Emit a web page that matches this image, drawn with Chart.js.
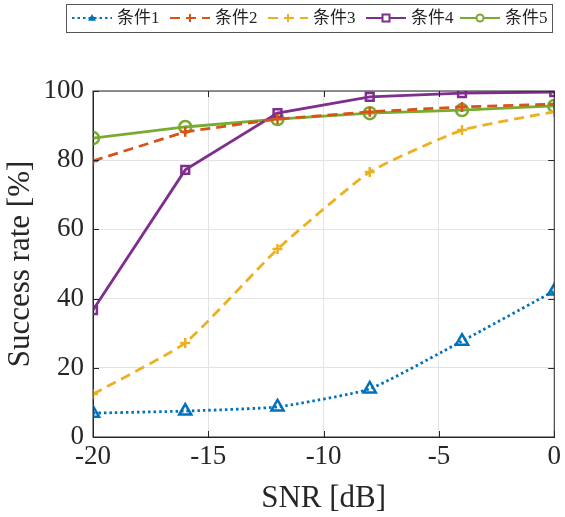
<!DOCTYPE html>
<html>
<head>
<meta charset="utf-8">
<script src="https://cdn.jsdelivr.net/npm/chart.js@4"></script>
<style>
  html, body { margin: 0; padding: 0; background: #fff; }
  #wrap { width: 565px; height: 517px; }
</style>
</head>
<body>
<div id="wrap"><canvas id="c" width="565" height="517"></canvas></div>
<script>
// data
const snr = [-20, -16, -12, -8, -4, 0];
const labels = ["条件1", "条件2", "条件3", "条件4", "条件5"];
const cond1 = [6.9, 7.5, 8.7, 13.9, 27.7, 42.2];
const cond2 = [79.8, 88.2, 91.9, 94.0, 95.4, 96.2];
const cond3 = [12.4, 27.2, 54.3, 76.6, 88.7, 94.0];
const cond4 = [36.7, 77.2, 93.6, 98.3, 99.4, 99.7];
const cond5 = [86.4, 89.6, 91.9, 93.6, 94.5, 95.7];
const xTicks = [-20, -15, -10, -5, 0];
const yTicks = [0, 20, 40, 60, 80, 100];

const colors = ["#0072BD", "#D95319", "#EDB120", "#7E2F8E", "#77AC30"];
const styles = [
  { dash: [2.5, 3], point: "triangle", radius: 7, tension: 0.15 },
  { dash: [10, 6], point: "cross", radius: 5, tension: 0 },
  { dash: [10, 6], point: "cross", radius: 5, tension: 0.15 },
  { dash: [], point: "rect", radius: 5.5, tension: 0 },
  { dash: [], point: "circle", radius: 6, tension: 0 },
];
const series = [cond1, cond2, cond3, cond4, cond5];

const datasets = series.map((vals, i) => ({
  label: labels[i],
  data: vals.map((v, j) => ({ x: snr[j], y: v })),
  borderColor: colors[i],
  backgroundColor: "rgba(255,255,255,0)",
  borderWidth: 2.8,
  borderDash: styles[i].dash,
  pointStyle: styles[i].point,
  pointRadius: styles[i].radius,
  pointBorderWidth: 2.5,
  pointBorderColor: colors[i],
  pointBackgroundColor: "rgba(255,255,255,0)",
  tension: styles[i].tension,
}));

const serif = "'Liberation Serif', 'Times New Roman', serif";
const cjk = "'Liberation Serif', 'Noto Sans CJK SC', serif";

// box frame + inward ticks like matlab
const framePlugin = {
  id: "frame",
  afterDraw(chart) {
    const { ctx, chartArea: a, scales } = chart;
    ctx.save();
    ctx.strokeStyle = "#262626";
    ctx.lineWidth = 1;
    ctx.strokeRect(a.left, a.top, a.right - a.left, a.bottom - a.top);
    const t = 6;
    xTicks.forEach((v) => {
      const x = Math.round(scales.x.getPixelForValue(v)) + 0.5;
      ctx.beginPath();
      ctx.moveTo(x, a.bottom); ctx.lineTo(x, a.bottom - t);
      ctx.moveTo(x, a.top); ctx.lineTo(x, a.top + t);
      ctx.stroke();
    });
    yTicks.forEach((v) => {
      const y = Math.round(scales.y.getPixelForValue(v)) + 0.5;
      ctx.beginPath();
      ctx.moveTo(a.left, y); ctx.lineTo(a.left + t, y);
      ctx.moveTo(a.right, y); ctx.lineTo(a.right - t, y);
      ctx.stroke();
    });
    ctx.restore();
  },
};

// legend box at the top with line + marker samples
const legendPlugin = {
  id: "boxLegend",
  afterDraw(chart) {
    const { ctx } = chart;
    ctx.save();
    ctx.fillStyle = "#fff";
    ctx.fillRect(66.5, 4.5, 486, 28);
    ctx.strokeStyle = "#555";
    ctx.lineWidth = 1;
    ctx.strokeRect(66.5, 4.5, 486, 28);
    const starts = [72, 170, 268, 366, 460];
    const y = 18;
    chart.data.datasets.forEach((ds, i) => {
      const x0 = starts[i];
      ctx.strokeStyle = ds.borderColor;
      ctx.lineWidth = 2;
      ctx.setLineDash(ds.borderDash);
      ctx.beginPath();
      ctx.moveTo(x0, y); ctx.lineTo(x0 + 40, y);
      ctx.stroke();
      ctx.setLineDash([]);
      ctx.lineWidth = 2;
      ctx.fillStyle = ds.borderColor;
      // marker in the middle
      const mx = x0 + 20;
      const r = 4;
      ctx.beginPath();
      if (ds.pointStyle === "triangle") {
        ctx.moveTo(mx, y - r); ctx.lineTo(mx + r, y + r * 0.7); ctx.lineTo(mx - r, y + r * 0.7);
        ctx.closePath(); ctx.fill();
      } else if (ds.pointStyle === "cross") {
        ctx.moveTo(mx - r, y); ctx.lineTo(mx + r, y);
        ctx.moveTo(mx, y - r); ctx.lineTo(mx, y + r);
        ctx.stroke();
      } else if (ds.pointStyle === "rect") {
        ctx.fillStyle = "#fff";
        ctx.fillRect(mx - 3.5, y - 3.5, 7, 7);
        ctx.strokeRect(mx - 3.5, y - 3.5, 7, 7);
      } else {
        ctx.fillStyle = "#fff";
        ctx.arc(mx, y, 3.5, 0, Math.PI * 2);
        ctx.fill(); ctx.stroke();
      }
      ctx.fillStyle = "#222";
      ctx.font = "17px " + cjk;
      ctx.textBaseline = "middle";
      ctx.fillText(ds.label, x0 + 45, y + 1);
    });
    ctx.restore();
  },
};

new Chart(document.getElementById("c"), {
  type: "line",
  data: { datasets },
  plugins: [framePlugin, legendPlugin],
  options: {
    responsive: false,
    animation: false,
    layout: { padding: { top: 91, right: 1, left: 0, bottom: 0 } },
    plugins: { legend: { display: false }, tooltip: { enabled: false } },
    scales: {
      x: {
        type: "linear",
        min: -20,
        max: 0,
        afterBuildTicks: (s) => { s.ticks = xTicks.map((v) => ({ value: v })); },
        afterFit: (s) => { s.height = 80; },
        ticks: {
          color: "#262626",
          font: { family: serif, size: 27 },
          padding: 4,
          callback: (v) => String(v),
        },
        grid: { color: "#e3e3e3", drawTicks: false },
        border: { color: "#262626" },
        title: {
          display: true,
          text: "SNR [dB]",
          color: "#262626",
          font: { family: serif, size: 31 },
          padding: { top: 3, bottom: 0 },
        },
      },
      y: {
        type: "linear",
        min: 0,
        max: 100,
        afterBuildTicks: (s) => { s.ticks = yTicks.map((v) => ({ value: v })); },
        afterFit: (s) => { s.width = 93; },
        ticks: {
          color: "#262626",
          font: { family: serif, size: 27 },
          padding: 9,
        },
        grid: { color: "#e3e3e3", drawTicks: false },
        border: { color: "#262626" },
        title: {
          display: true,
          text: "Success rate [%]",
          color: "#262626",
          font: { family: serif, size: 31 },
          padding: { top: 2, bottom: 0 },
        },
      },
    },
  },
});
</script>
</body>
</html>
